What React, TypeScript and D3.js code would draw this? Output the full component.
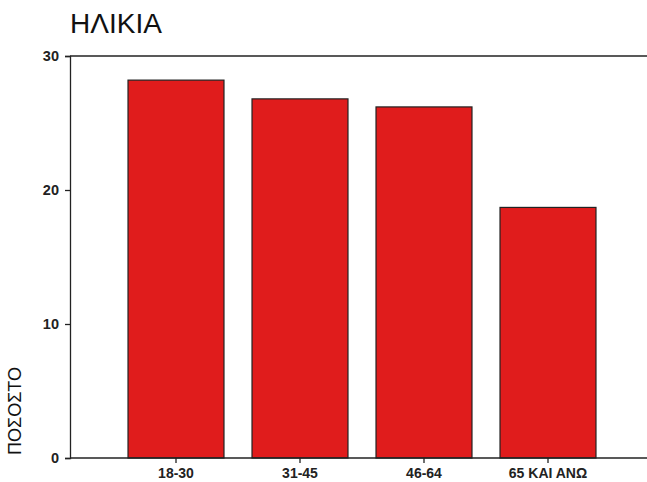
import React, { useEffect, useRef } from "react";
import * as d3 from "d3";

const categories = ["18-30", "31-45", "46-64", "65 ΚΑΙ ΑΝΩ"];
const values = [28.2, 26.8, 26.2, 18.7];
const yTicks = [0, 10, 20, 30];

function BarChart() {
  const ref = useRef<SVGSVGElement | null>(null);

  useEffect(() => {
    const width = 647;
    const height = 482;
    const left = 70;
    const right = 647;
    const top = 56;
    const bottom = 458;
    const font = "Liberation Sans, Arial, sans-serif";

    const svg = d3.select(ref.current);
    svg.selectAll("*").remove();

    const x = d3
      .scaleBand<string>()
      .domain(categories)
      .range([114, 610])
      .paddingInner(0.226)
      .paddingOuter(0.113);

    const y = d3.scaleLinear().domain([0, 30]).range([bottom, top]);

    svg.attr("width", width).attr("height", height);

    // title
    svg
      .append("text")
      .attr("x", left)
      .attr("y", 33)
      .attr("font-family", font)
      .attr("font-size", 28)
      .attr("fill", "#111")
      .text("ΗΛΙΚΙΑ");

    // bars
    svg
      .selectAll("rect.bar")
      .data(values)
      .enter()
      .append("rect")
      .attr("class", "bar")
      .attr("x", (_d, i) => x(categories[i])!)
      .attr("y", (d) => y(d))
      .attr("width", x.bandwidth())
      .attr("height", (d) => y(0) - y(d))
      .attr("fill", "#e01c1c")
      .attr("stroke", "#222")
      .attr("stroke-width", 1.2);

    // frame lines
    [top, bottom].forEach((yy) => {
      svg
        .append("line")
        .attr("x1", left)
        .attr("x2", right)
        .attr("y1", yy)
        .attr("y2", yy)
        .attr("stroke", "#222")
        .attr("stroke-width", 1.3);
    });

    // y axis
    const yAxis = d3
      .axisLeft(y)
      .tickValues(yTicks)
      .tickSize(5)
      .tickPadding(6)
      .tickFormat(d3.format("d"));
    const gy = svg.append("g").attr("transform", `translate(${left},0)`).call(yAxis);
    gy.select(".domain").attr("stroke", "#222").attr("stroke-width", 1.3);
    gy.selectAll("line").attr("stroke", "#222").attr("stroke-width", 1.3);
    gy.selectAll("text")
      .attr("font-family", font)
      .attr("font-size", 14.5)
      .attr("font-weight", "bold")
      .attr("fill", "#222")
      .attr("dy", "0.3em");

    // x axis
    const xAxis = d3.axisBottom(x).tickSize(5).tickPadding(5).tickSizeOuter(0);
    const gx = svg.append("g").attr("transform", `translate(0,${bottom})`).call(xAxis);
    gx.select(".domain").remove();
    gx.selectAll("line").attr("stroke", "#222").attr("stroke-width", 1.3);
    gx.selectAll("text")
      .attr("font-family", font)
      .attr("font-size", 14)
      .attr("font-weight", "bold")
      .attr("fill", "#222");

    // y label
    svg
      .append("text")
      .attr("transform", `translate(21,455) rotate(-90)`)
      .attr("font-family", font)
      .attr("font-size", 18)
      .attr("fill", "#111")
      .text("ΠΟΣΟΣΤΟ");
  }, []);

  return <svg ref={ref} style={{ position: "absolute", left: 0, top: 0 }} />;
}

export default function App() {
  return <BarChart />;
}
